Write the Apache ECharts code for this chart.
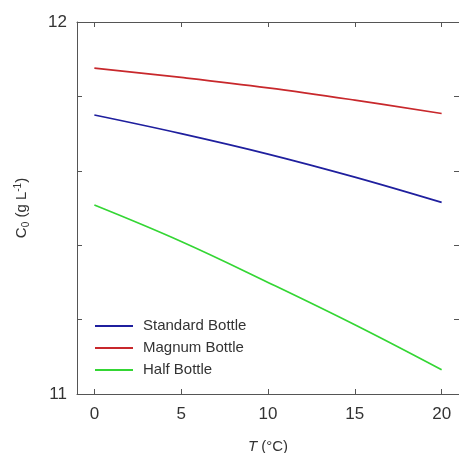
<!DOCTYPE html>
<html>
<head>
<meta charset="utf-8">
<script src="https://cdn.jsdelivr.net/npm/echarts@6/dist/echarts.min.js"></script>
<style>
  html, body { margin: 0; padding: 0; background: #fff; }
  #chart { width: 459px; height: 453px; }
</style>
</head>
<body>
<div id="chart"></div>
<script>
// temperature (°C) and initial concentration C0 (g/L) per bottle size
const temps = [0, 5, 10, 15, 20]
const standardBottle = [11.750, 11.700, 11.645, 11.583, 11.515]
const magnumBottle = [11.876, 11.851, 11.823, 11.790, 11.754]
const halfBottle = [11.508, 11.410, 11.300, 11.186, 11.065]

const xTicks = [0, 5, 10, 15, 20]
const yTicks = [11, 11.2, 11.4, 11.6, 11.8, 12]
const yLabels = [11, 12]

const axisColor = '#555'
const font = 'Liberation Sans, Arial, sans-serif'

const pairs = (ys) => temps.map((t, i) => [t, ys[i]])

const lineSeries = (name, ys, color) => ({
  type: 'line',
  name: name,
  data: pairs(ys),
  smooth: 0.4,
  showSymbol: false,
  lineStyle: { color: color, width: 1.7 },
  itemStyle: { color: color }
})

const chart = echarts.init(document.getElementById('chart'))

const tickStyle = (values) => ({
  show: true, inside: true, length: 5, customValues: values,
  lineStyle: { color: axisColor, width: 1 }
})

const baseX = {
  type: 'value',
  min: -1,
  max: 21,
  splitLine: { show: false },
  axisLine: { show: true, onZero: false, lineStyle: { color: axisColor, width: 1 } },
  axisTick: tickStyle(xTicks)
}
const baseY = {
  type: 'value',
  min: 11,
  max: 12,
  splitLine: { show: false },
  axisLine: { show: true, onZero: false, lineStyle: { color: axisColor, width: 1 } },
  axisTick: tickStyle(yTicks)
}

chart.setOption({
  animation: false,
  textStyle: { fontFamily: font },
  grid: { left: 77, right: 0, top: 22, bottom: 59, containLabel: false, outerBoundsMode: 'none' },
  legend: {
    orient: 'vertical',
    left: 90,
    top: 313,
    icon: 'rect',
    itemWidth: 38,
    itemHeight: 2,
    itemGap: 6,
    textStyle: { fontSize: 15, color: '#333', lineHeight: 16, fontFamily: font, padding: [0, 0, 0, 5] },
    data: ['Standard Bottle', 'Magnum Bottle', 'Half Bottle']
  },
  xAxis: [
    Object.assign({}, baseX, {
      position: 'bottom',
      name: '{i|T} (°C)',
      nameLocation: 'middle',
      nameGap: 45,
      nameTextStyle: {
        color: '#333',
        fontSize: 15,
        rich: {
          i: { fontStyle: 'italic', fontSize: 15, color: '#333', fontFamily: font }
        }
      },
      axisLabel: { customValues: xTicks, color: '#333', fontSize: 17, margin: 12 }
    }),
    Object.assign({}, baseX, { position: 'top', axisLabel: { show: false } })
  ],
  yAxis: [
    Object.assign({}, baseY, {
      position: 'left',
      name: '{n|C}{sub|0}{n| (g L}{sup|-1}{n|)}',
      nameLocation: 'middle',
      nameGap: 46,
      nameTextStyle: {
        color: '#333',
        rich: {
          n: { fontSize: 15, color: '#333', fontFamily: font, lineHeight: 18, verticalAlign: 'middle' },
          sub: { fontSize: 10, color: '#333', fontFamily: font, lineHeight: 18, verticalAlign: 'bottom' },
          sup: { fontSize: 10, color: '#333', fontFamily: font, lineHeight: 18, verticalAlign: 'top' }
        }
      },
      axisLabel: { customValues: yLabels, color: '#333', fontSize: 17, margin: 10 }
    }),
    Object.assign({}, baseY, {
      position: 'right',
      axisLine: { show: false, onZero: false },
      axisLabel: { show: false }
    })
  ],
  series: [
    lineSeries('Standard Bottle', standardBottle, '#1f1f9e'),
    lineSeries('Magnum Bottle', magnumBottle, '#c8282c'),
    lineSeries('Half Bottle', halfBottle, '#34d634')
  ]
})
</script>
</body>
</html>
